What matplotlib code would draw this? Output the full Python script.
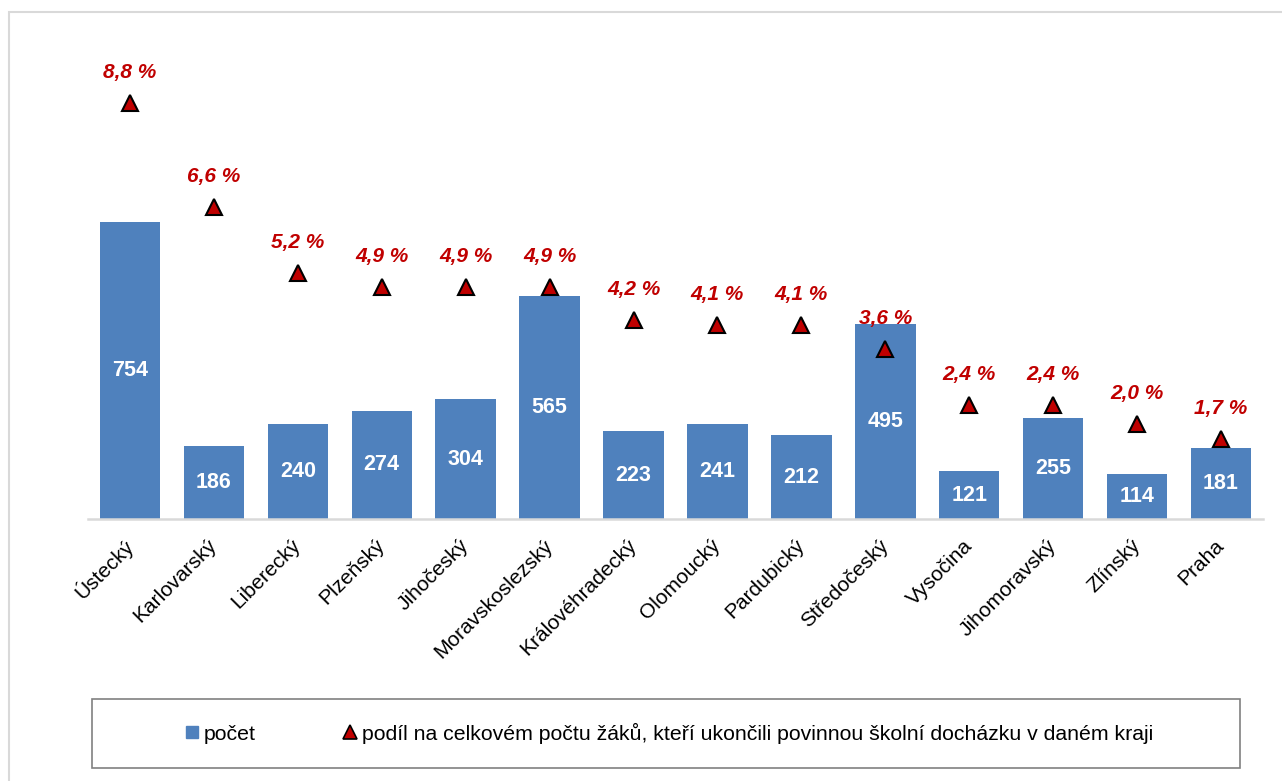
import matplotlib
matplotlib.use("Agg")
import matplotlib.pyplot as plt
from matplotlib.patches import Rectangle
from matplotlib.lines import Line2D

plt.rcParams['font.family'] = ['Liberation Sans', 'DejaVu Sans']

regions = ["Ústecký", "Karlovarský", "Liberecký", "Plzeňský", "Jihočeský",
           "Moravskoslezský", "Královéhradecký", "Olomoucký", "Pardubický",
           "Středočeský", "Vysočina", "Jihomoravský", "Zlínský", "Praha"]
counts = [754, 186, 240, 274, 304, 565, 223, 241, 212, 495, 121, 255, 114, 181]
shares = [8.8, 6.6, 5.2, 4.9, 4.9, 4.9, 4.2, 4.1, 4.1, 3.6, 2.4, 2.4, 2.0, 1.7]

label_count = "počet"
label_share = "podíl na celkovém počtu žáků, kteří ukončili povinnou školní docházku v daném kraji"

bar_color = "#4F81BD"
red = "#C00000"

fig = plt.figure(figsize=(12.82, 7.81), dpi=100)
fig.patches.append(Rectangle((9/1282, -0.1), 1.2, 1 - 12/781 + 0.1, transform=fig.transFigure,
                             fill=False, edgecolor="#D9D9D9", lw=1.5))

ax = fig.add_axes([88/1282, 1 - 519/781, (1263-88)/1282, (519-46)/781])
x = list(range(len(regions)))
bars = ax.bar(x, counts, width=0.72, color=bar_color, zorder=2)
ax.set_xlim(-0.5, len(regions) - 0.5)
ax.set_ylim(0, 1200)
for b, v in zip(bars, counts):
    ax.text(b.get_x() + b.get_width()/2, v/2, str(v), ha="center", va="center",
            color="white", fontsize=15.5, fontweight="bold", zorder=3)

for s in ["top", "right", "left"]:
    ax.spines[s].set_visible(False)
ax.spines["bottom"].set_color("#D9D9D9")
ax.spines["bottom"].set_linewidth(1.8)
ax.set_yticks([])
ax.set_xticks(x)
ax.set_xticklabels(regions, rotation=45, ha="right", va="center", rotation_mode="anchor",
                   fontsize=15)
ax.tick_params(axis="x", length=0, pad=17)

ax2 = ax.twinx()
ax2.set_ylim(0, 10)
ax2.plot(x, shares, linestyle="none", marker="^", markersize=12, markerfacecolor=red,
         markeredgecolor="black", markeredgewidth=1.5, zorder=4)
for xi, s in zip(x, shares):
    ax2.annotate(f"{s:.1f}".replace(".", ",") + " %", (xi, s), xytext=(0, 22),
                 textcoords="offset points", ha="center", va="center",
                 color=red, fontsize=15, fontweight="bold", fontstyle="italic")
ax2.set_yticks([])
for s in ["top", "right", "left", "bottom"]:
    ax2.spines[s].set_visible(False)

# legend frame
fig.patches.append(Rectangle((92/1282, 1 - 768/781), (1240-92)/1282, (768-699)/781,
                             transform=fig.transFigure, fill=False, edgecolor="#808080", lw=1.2))
handles = [
    Line2D([], [], linestyle="none", marker="s", markersize=8.5, markerfacecolor=bar_color,
           markeredgecolor=bar_color),
    Line2D([], [], linestyle="none", marker="^", markersize=10, markerfacecolor=red,
           markeredgecolor="black", markeredgewidth=1.2),
]
fig.legend(handles, [label_count, label_share], loc="center",
           bbox_to_anchor=(668/1282, 1 - 733/781), ncol=2, frameon=False,
           fontsize=15.3, handletextpad=0.1, columnspacing=4.0, handlelength=0.9)

fig.savefig("out.png", dpi=100)
